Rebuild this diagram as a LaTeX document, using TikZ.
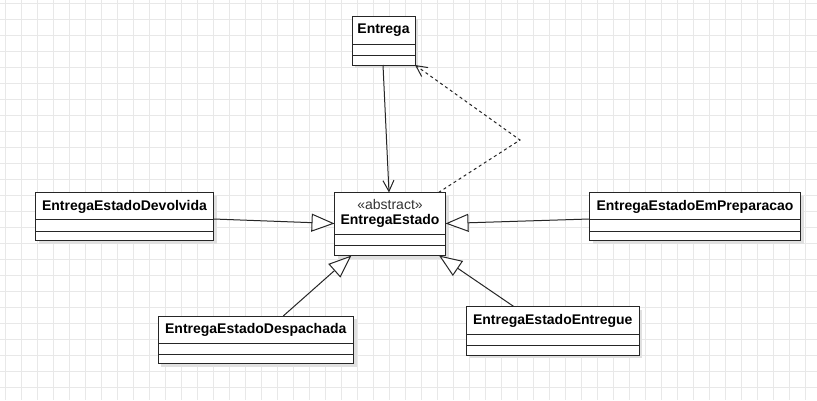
\documentclass[tikz,border=0pt]{standalone}
\usepackage{fontspec}
\setmainfont{Liberation Sans}
\usetikzlibrary{arrows.meta,shadows,calc}
\begin{document}
\begin{tikzpicture}[x=1pt,y=-1pt,
  classbox/.style={draw=black!85, line width=1pt, fill=white, inner sep=0pt, outer sep=0pt,
    drop shadow={shadow xshift=3pt, shadow yshift=-3pt, fill=black!12, opacity=1}},
  divider/.style={draw=black!85, line width=1pt},
  cname/.style={font=\bfseries\fontsize{14}{16}\selectfont, inner sep=0pt, text=black},
  stereo/.style={font=\fontsize{14}{16}\selectfont, inner sep=0pt, text=black!80},
  conn/.style={draw=black!85, line width=1pt},
  gen/.style={conn, -{Triangle[open, length=23pt, width=18pt, fill=white]}},
  assoc/.style={conn, -{Straight Barb[length=11pt, width=11pt]}},
  dep/.style={conn, dash pattern=on 3pt off 3pt, -{Straight Barb[length=11pt, width=11pt]}}
]
\useasboundingbox (0,0) rectangle (817,400);
\fill[white] (0,0) rectangle (817,400);
% grid
\foreach \gx in {5,21,...,817} \draw[black!9, line width=0.6pt] (\gx,0) -- (\gx,400);
\foreach \gy in {3,19,...,400} \draw[black!9, line width=0.6pt] (0,\gy) -- (817,\gy);

% class macro: name, x1, y1, x2, y2, div1, div2, label
\newcommand{\umlcls}[8]{%
  \node[classbox, anchor=north west, minimum width={(#4)-(#2)}, minimum height={(#5)-(#3)}] (#1) at (#2,#3) {};
  \draw[divider] (#2,#6) -- (#4,#6);
  \draw[divider] (#2,#7) -- (#4,#7);
  \node[cname] (#1-label) at ({((#2)+(#4))/2},{((#3)+(#6))/2+0.5}) {#8};
}

\umlcls{ent}{352}{16}{415}{65}{44}{55}{Entrega}
\node[classbox, anchor=north west, minimum width=111, minimum height=63] (est) at (334.5,192.5) {};
\draw[divider] (334.5,234.5) -- (445.5,234.5);
\draw[divider] (334.5,245.5) -- (445.5,245.5);
\node[stereo] (est-st) at (390,204.5) {«abstract»};
\node[cname] (est-label) at (390,220.5) {EntregaEstado};

\umlcls{dev}{35.5}{192.5}{213.5}{240.5}{219.5}{231}{EntregaEstadoDevolvida}
\umlcls{prep}{589.5}{192.5}{800.5}{240.5}{219.5}{231}{EntregaEstadoEmPreparacao}
\umlcls{desp}{158}{316}{353.5}{363.5}{343.5}{354.5}{EntregaEstadoDespachada}
\umlcls{entg}{466.5}{306.5}{639}{355}{334}{345.5}{EntregaEstadoEntregue}

% connectors
\draw[assoc] ([xshift=-0.5pt]ent.south) -- ([xshift=-1pt]est.north);
\coordinate (bend) at (520,140);
\draw[dep] ([xshift=-7pt]est.north east) -- (bend) -- (ent.south east);
\draw[gen] ([yshift=-2.5pt]dev.east) -- ([yshift=0.5pt]est.west);
\draw[gen] ([yshift=-2.5pt]prep.west) -- ([yshift=0.5pt]est.east);
\draw[gen] ([xshift=27.5pt]desp.north) -- ([xshift=-38.5pt]est.south);
\draw[gen] ([xshift=-39pt]entg.north) -- ([xshift=-6.5pt]est.south east);
\end{tikzpicture}
\end{document}
